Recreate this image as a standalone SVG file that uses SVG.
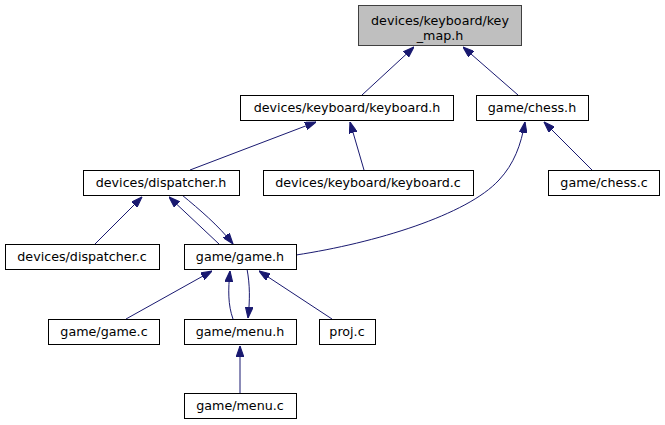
<svg xmlns="http://www.w3.org/2000/svg" width="665" height="425" viewBox="0 0 665 425">
<style>
.n rect{fill:#ffffff;stroke:#000000;stroke-width:1}
.n text{font-family:"DejaVu Sans","Liberation Sans",sans-serif;font-size:12.7px;text-anchor:middle;fill:#000000}
#n0 rect{fill:#bfbfbf;stroke:#404040}
.e path{fill:none;stroke:#191970;stroke-width:1;marker-end:url(#ah)}
</style>
<defs>
<marker id="ah" viewBox="0 0 10 7" refX="10" refY="3.5" markerUnits="userSpaceOnUse" markerWidth="11" markerHeight="8" orient="auto">
<path d="M0,0 L10,3.5 L0,7 z" fill="#191970" stroke="#191970"/>
</marker>
</defs>
<rect width="665" height="425" fill="#ffffff"/>
<g class="e">
<path d="M362,95 L414,47"/>
<path d="M518,95 L463,47"/>
<path d="M190,170 L316,122"/>
<path d="M364,170 L350,122"/>
<path d="M592,170 L544,122"/>
<path d="M296,255 C375,243 467,215 499,180 C514,164 521,145 525,122"/>
<path d="M95,244 L142,197"/>
<path d="M219,244 L169,197"/>
<path d="M182,195 C200,210 218,225 233,244"/>
<path d="M126,319 L212,271"/>
<path d="M233,319 C228,305 228,290 230,271"/>
<path d="M247,269 C250,285 250,300 248,318"/>
<path d="M332,319 L259,271"/>
<path d="M240,394 L240,346"/>
</g>
<g id="n0" class="n"><rect x="358.5" y="5.5" width="163" height="40"/><text x="440" y="24.5">devices/keyboard/key</text><text x="440" y="39.5">_map.h</text></g>
<g id="n1" class="n"><rect x="240.5" y="95.5" width="213" height="25"/><text x="347" y="111.5">devices/keyboard/keyboard.h</text></g>
<g id="n2" class="n"><rect x="476.5" y="95.5" width="112" height="25"/><text x="532" y="111.5">game/chess.h</text></g>
<g id="n3" class="n"><rect x="83.5" y="170.5" width="156" height="25"/><text x="161" y="186.5">devices/dispatcher.h</text></g>
<g id="n4" class="n"><rect x="263.5" y="170.5" width="210" height="25"/><text x="368" y="186.5">devices/keyboard/keyboard.c</text></g>
<g id="n5" class="n"><rect x="548.5" y="170.5" width="111" height="25"/><text x="604" y="186.5">game/chess.c</text></g>
<g id="n6" class="n"><rect x="5.5" y="244.5" width="154" height="25"/><text x="82" y="260.5">devices/dispatcher.c</text></g>
<g id="n7" class="n"><rect x="184.5" y="244.5" width="112" height="25"/><text x="240" y="260.5">game/game.h</text></g>
<g id="n8" class="n"><rect x="48.5" y="319.5" width="111" height="25"/><text x="104" y="335.5">game/game.c</text></g>
<g id="n9" class="n"><rect x="184.5" y="319.5" width="112" height="25"/><text x="240" y="335.5">game/menu.h</text></g>
<g id="n10" class="n"><rect x="319.5" y="319.5" width="56" height="25"/><text x="347" y="335.5">proj.c</text></g>
<g id="n11" class="n"><rect x="184.5" y="393.5" width="112" height="25"/><text x="240" y="409.5">game/menu.c</text></g>
</svg>
